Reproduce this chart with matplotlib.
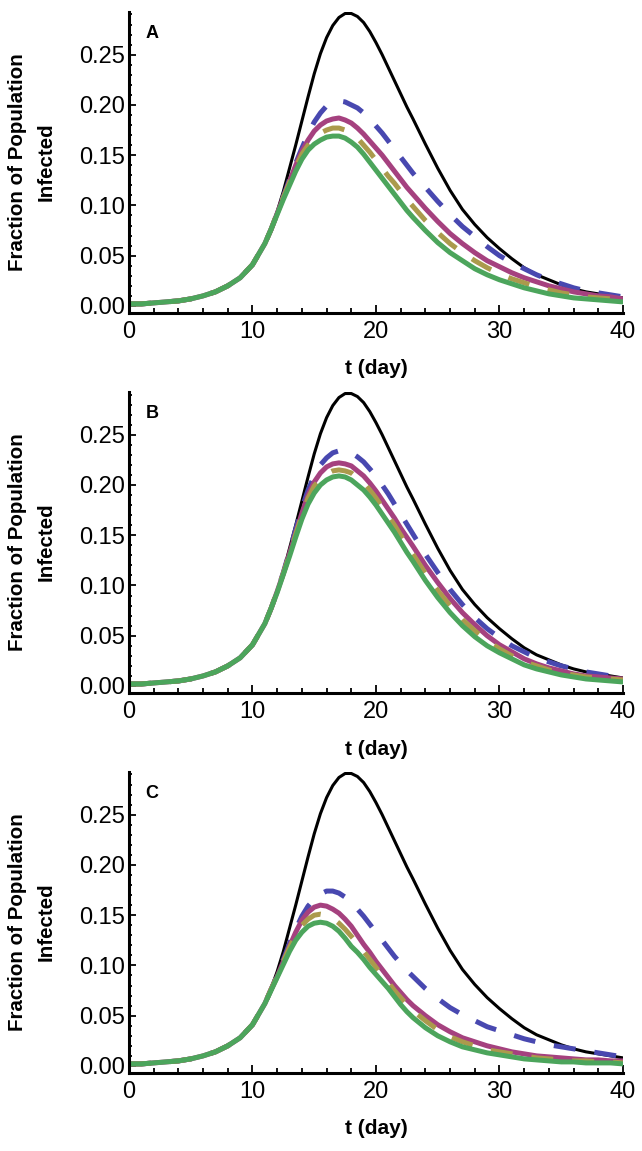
import matplotlib.pyplot as plt
from matplotlib.ticker import MultipleLocator, FormatStrFormatter

plt.rcParams['font.family'] = ['Liberation Sans', 'DejaVu Sans']

# sample days: whole days, half days around the peak
days = ([0, 1, 2, 3, 4, 5, 6, 7, 8, 9, 10, 11]
        + [11.5, 12, 12.5, 13, 13.5, 14, 14.5, 15, 15.5, 16, 16.5, 17,
           17.5, 18, 18.5, 19, 19.5, 20, 20.5, 21, 21.5, 22, 22.5]
        + [23, 24, 25, 26, 27, 28, 29, 30, 31, 32, 33, 34, 35, 36, 37, 38, 39, 40])

# all curves share the early growth phase (day 0-11)
early = [0.002, 0.002, 0.003, 0.004, 0.005, 0.007, 0.010, 0.014, 0.020, 0.028, 0.041, 0.062]

# baseline curve (same in every panel)
black = early + [0.077, 0.094, 0.114, 0.137, 0.160, 0.184, 0.208, 0.231, 0.251, 0.267, 0.279, 0.287,
                 0.291, 0.291, 0.288, 0.282, 0.273, 0.262, 0.250, 0.237, 0.224, 0.211, 0.198] + \
    [0.186, 0.161, 0.137, 0.115, 0.096, 0.081, 0.068, 0.057, 0.047, 0.038, 0.031, 0.026,
     0.021, 0.017, 0.014, 0.012, 0.010, 0.008]

# panel A
a_blue = early + [0.076, 0.092, 0.109, 0.126, 0.142, 0.157, 0.171, 0.183, 0.192, 0.199, 0.202, 0.204,
                  0.203, 0.200, 0.197, 0.192, 0.186, 0.179, 0.172, 0.164, 0.156, 0.148, 0.140] + \
    [0.132, 0.118, 0.104, 0.091, 0.079, 0.069, 0.059, 0.050, 0.043, 0.037, 0.031, 0.026,
     0.022, 0.018, 0.015, 0.013, 0.011, 0.009]
a_purple = early + [0.076, 0.092, 0.108, 0.124, 0.140, 0.154, 0.165, 0.174, 0.180, 0.184, 0.186, 0.187,
                    0.185, 0.182, 0.177, 0.171, 0.164, 0.157, 0.150, 0.142, 0.134, 0.126, 0.118] + \
    [0.111, 0.097, 0.084, 0.072, 0.062, 0.053, 0.045, 0.039, 0.033, 0.028, 0.024, 0.020,
     0.017, 0.014, 0.012, 0.010, 0.009, 0.007]
a_olive = early + [0.076, 0.092, 0.108, 0.123, 0.138, 0.151, 0.160, 0.167, 0.172, 0.175, 0.177, 0.177,
                   0.175, 0.172, 0.167, 0.160, 0.153, 0.145, 0.137, 0.129, 0.122, 0.114, 0.106] + \
    [0.099, 0.085, 0.073, 0.062, 0.053, 0.045, 0.038, 0.032, 0.027, 0.023, 0.019, 0.016,
     0.013, 0.011, 0.009, 0.008, 0.007, 0.006]
a_green = early + [0.076, 0.091, 0.106, 0.120, 0.134, 0.146, 0.155, 0.161, 0.165, 0.168, 0.169, 0.169,
                   0.167, 0.163, 0.158, 0.151, 0.143, 0.135, 0.127, 0.119, 0.111, 0.103, 0.095] + \
    [0.088, 0.075, 0.063, 0.053, 0.045, 0.037, 0.031, 0.026, 0.022, 0.018, 0.015, 0.012,
     0.010, 0.008, 0.007, 0.006, 0.005, 0.004]

# panel B
b_blue = early + [0.077, 0.094, 0.113, 0.134, 0.156, 0.177, 0.195, 0.209, 0.220, 0.227, 0.232, 0.234,
                  0.234, 0.232, 0.228, 0.223, 0.216, 0.209, 0.200, 0.191, 0.181, 0.171, 0.161] + \
    [0.151, 0.131, 0.113, 0.096, 0.081, 0.068, 0.057, 0.048, 0.040, 0.034, 0.028, 0.024,
     0.020, 0.017, 0.014, 0.012, 0.010, 0.008]
b_purple = early + [0.077, 0.094, 0.112, 0.132, 0.152, 0.172, 0.190, 0.203, 0.212, 0.218, 0.221, 0.222,
                    0.221, 0.219, 0.214, 0.209, 0.202, 0.194, 0.185, 0.176, 0.167, 0.157, 0.148] + \
    [0.139, 0.120, 0.103, 0.087, 0.073, 0.061, 0.050, 0.041, 0.034, 0.027, 0.022, 0.018,
     0.015, 0.012, 0.010, 0.009, 0.008, 0.007]
b_olive = early + [0.077, 0.094, 0.112, 0.131, 0.151, 0.170, 0.187, 0.199, 0.206, 0.211, 0.214, 0.215,
                   0.214, 0.212, 0.207, 0.202, 0.195, 0.187, 0.178, 0.169, 0.160, 0.150, 0.140] + \
    [0.131, 0.112, 0.095, 0.080, 0.066, 0.055, 0.045, 0.037, 0.030, 0.024, 0.020, 0.016,
     0.013, 0.011, 0.009, 0.008, 0.007, 0.006]
b_green = early + [0.077, 0.093, 0.111, 0.129, 0.148, 0.166, 0.181, 0.192, 0.200, 0.205, 0.208, 0.209,
                   0.208, 0.205, 0.200, 0.195, 0.188, 0.180, 0.171, 0.162, 0.153, 0.143, 0.133] + \
    [0.124, 0.105, 0.088, 0.073, 0.060, 0.049, 0.040, 0.033, 0.027, 0.021, 0.017, 0.014,
     0.011, 0.009, 0.007, 0.006, 0.005, 0.004]

# panel C
c_blue = early + [0.076, 0.090, 0.106, 0.122, 0.136, 0.149, 0.159, 0.166, 0.171, 0.174, 0.174, 0.172,
                  0.168, 0.163, 0.156, 0.149, 0.141, 0.133, 0.125, 0.117, 0.109, 0.102, 0.095] + \
    [0.089, 0.077, 0.067, 0.058, 0.051, 0.045, 0.039, 0.035, 0.031, 0.027, 0.024, 0.021,
     0.019, 0.017, 0.015, 0.013, 0.011, 0.009]
c_purple = early + [0.076, 0.089, 0.104, 0.119, 0.133, 0.145, 0.153, 0.158, 0.160, 0.159, 0.156, 0.152,
                    0.146, 0.139, 0.130, 0.121, 0.113, 0.104, 0.096, 0.088, 0.080, 0.073, 0.066] + \
    [0.060, 0.050, 0.041, 0.034, 0.028, 0.024, 0.020, 0.017, 0.014, 0.012, 0.010, 0.009,
     0.008, 0.007, 0.006, 0.006, 0.005, 0.005]
c_olive = early + [0.076, 0.089, 0.104, 0.118, 0.130, 0.140, 0.146, 0.150, 0.151, 0.150, 0.147, 0.142,
                   0.136, 0.129, 0.122, 0.114, 0.106, 0.098, 0.090, 0.083, 0.075, 0.068, 0.061] + \
    [0.055, 0.045, 0.036, 0.029, 0.024, 0.020, 0.016, 0.014, 0.012, 0.010, 0.008, 0.007,
     0.006, 0.005, 0.005, 0.004, 0.004, 0.003]
c_green = early + [0.075, 0.088, 0.101, 0.114, 0.125, 0.133, 0.139, 0.142, 0.143, 0.142, 0.139, 0.134,
                   0.127, 0.119, 0.113, 0.106, 0.098, 0.091, 0.084, 0.077, 0.069, 0.061, 0.054] + \
    [0.048, 0.038, 0.030, 0.024, 0.019, 0.016, 0.013, 0.011, 0.009, 0.007, 0.006, 0.005,
     0.004, 0.004, 0.003, 0.003, 0.003, 0.002]

panels = [("A", a_blue, a_purple, a_olive, a_green),
          ("B", b_blue, b_purple, b_olive, b_green),
          ("C", c_blue, c_purple, c_olive, c_green)]

blue_c = "#4848b0"
purple_c = "#a5417f"
olive_c = "#ab9a4c"
green_c = "#4ca55c"

fig = plt.figure(figsize=(6.42, 11.51), dpi=100)
bottoms = [0.7281, 0.3979, 0.0678]

for (letter, blue, purple, olive, green), b in zip(panels, bottoms):
    ax = fig.add_axes([0.2009, b, 0.7695, 0.2615])
    ax.plot(days, black, color="black", lw=2.2, solid_joinstyle="round")
    ax.plot(days, blue, color=blue_c, lw=3.6, dashes=(4.4, 3.8), dash_capstyle="butt")
    ax.plot(days, purple, color=purple_c, lw=3.6, solid_joinstyle="round")
    ax.plot(days, olive, color=olive_c, lw=3.6, dashes=(4.4, 3.8), dash_capstyle="butt")
    ax.plot(days, green, color=green_c, lw=3.6, solid_joinstyle="round")

    ax.set_xlim(0, 40)
    ax.set_ylim(-0.007, 0.2925)
    ax.set_xticks([0, 10, 20, 30, 40])
    ax.xaxis.set_minor_locator(MultipleLocator(2))
    ax.set_yticks([0.0, 0.05, 0.10, 0.15, 0.20, 0.25])
    ax.yaxis.set_minor_locator(MultipleLocator(0.01))
    ax.yaxis.set_major_formatter(FormatStrFormatter("%.2f"))

    for s in ["top", "right"]:
        ax.spines[s].set_visible(False)
    for s in ["left", "bottom"]:
        ax.spines[s].set_linewidth(2.2)
    ax.tick_params(which="both", direction="in", width=1.3, labelsize=17)
    ax.tick_params(axis="x", which="major", length=6, pad=6)
    ax.tick_params(axis="x", which="minor", length=3.5)
    ax.tick_params(axis="y", which="major", length=5, pad=3)
    ax.tick_params(axis="y", which="minor", length=2.5)

    ax.text(1.86, 0.271, letter, fontsize=13, fontweight="bold", ha="center", va="center")

    top_px = 1151 * (1 - b - 0.2615)
    mid = 1 - (top_px + 150) / 1151
    fig.text(32 / 642, mid, "Fraction of Population\nInfected", rotation=90,
             ha="center", va="center", fontsize=14.8, fontweight="bold",
             linespacing=1.6, multialignment="center")
    fig.text(376 / 642, b - 56 / 1151, "t (day)", ha="center", va="center",
             fontsize=15, fontweight="bold")

fig.savefig("out.png", dpi=100)
